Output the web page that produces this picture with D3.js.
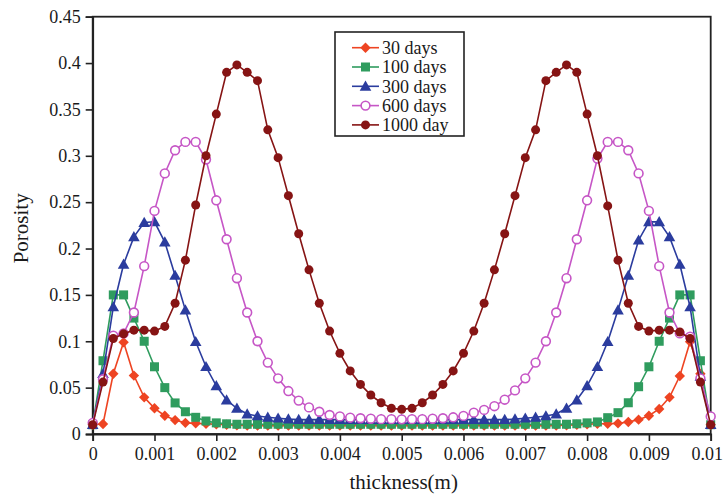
<!DOCTYPE html>
<html>
<head>
<meta charset="utf-8">
<script src="https://cdn.jsdelivr.net/npm/d3@7/dist/d3.min.js"></script>
<style>
  body { margin: 0; background: #fff; }
  svg { display: block; }
  text { font-family: "Liberation Serif", "Times New Roman", serif; fill: #1a1a1a; }
</style>
</head>
<body>
<svg id="chart" width="724" height="495"></svg>
<script>
// ---------- DATA ----------
const N = 61;
const thickness = d3.range(N).map(i => i / 6000); // 0 .. 0.01 m
const seriesNames = ["30 days", "100 days", "300 days", "600 days", "1000 day"];

const days30 = [
  0.010, 0.0108, 0.065, 0.099, 0.063, 0.0395, 0.0277, 0.0197, 0.015, 0.012,
  0.0115, 0.011, 0.0105, 0.010, 0.0095, 0.0092, 0.009, 0.009, 0.009, 0.009,
  0.009, 0.009, 0.009, 0.009, 0.009, 0.009, 0.009, 0.009, 0.009, 0.009,
  0.009, 0.009, 0.009, 0.009, 0.009, 0.009, 0.009, 0.009, 0.009, 0.009,
  0.009, 0.009, 0.009, 0.009, 0.009, 0.0092, 0.0095, 0.010, 0.0105, 0.011,
  0.011, 0.0115, 0.013, 0.0155, 0.0197, 0.027, 0.0395, 0.0625, 0.0995, 0.065,
  0.010
];
const days100 = [
  0.010, 0.079, 0.150, 0.150, 0.125, 0.100, 0.0725, 0.050, 0.0335, 0.024,
  0.018, 0.014, 0.012, 0.011, 0.0105, 0.0105, 0.0105, 0.0105, 0.0105, 0.0105,
  0.0105, 0.0105, 0.0105, 0.0105, 0.0105, 0.0105, 0.0105, 0.0105, 0.0105, 0.0105,
  0.0105, 0.0105, 0.0105, 0.0105, 0.0105, 0.0105, 0.0105, 0.0105, 0.0105, 0.0105,
  0.0105, 0.0105, 0.0105, 0.0105, 0.0105, 0.0105, 0.0105, 0.011, 0.012, 0.013,
  0.0176, 0.023, 0.0337, 0.051, 0.0725, 0.100, 0.125, 0.150, 0.150, 0.079,
  0.010
];
const days300 = [
  0.010, 0.065, 0.137, 0.183, 0.2126, 0.228, 0.2288, 0.207, 0.171, 0.1336,
  0.0995, 0.0725, 0.052, 0.0366, 0.0277, 0.0215, 0.0194, 0.018, 0.017, 0.016,
  0.0155, 0.0155, 0.0155, 0.0155, 0.0155, 0.0155, 0.0155, 0.0155, 0.0155, 0.0155,
  0.0155, 0.0155, 0.0155, 0.0155, 0.0155, 0.0155, 0.0155, 0.0155, 0.0155, 0.0155,
  0.0155, 0.016, 0.017, 0.018, 0.0194, 0.0215, 0.0277, 0.0366, 0.052, 0.0725,
  0.0995, 0.1336, 0.171, 0.209, 0.2288, 0.2288, 0.2126, 0.183, 0.137, 0.062,
  0.010
];
const days600 = [
  0.012, 0.059, 0.106, 0.1085, 0.131, 0.181, 0.2406, 0.281, 0.306, 0.315,
  0.315, 0.296, 0.252, 0.210, 0.168, 0.131, 0.100, 0.077, 0.060, 0.0463,
  0.036, 0.0287, 0.024, 0.0205, 0.019, 0.0176, 0.017, 0.0165, 0.016, 0.016,
  0.0158, 0.016, 0.016, 0.0165, 0.017, 0.018, 0.0195, 0.023, 0.026, 0.030,
  0.037, 0.047, 0.060, 0.077, 0.100, 0.131, 0.168, 0.210, 0.252, 0.297,
  0.315, 0.315, 0.306, 0.281, 0.2406, 0.181, 0.131, 0.1085, 0.105, 0.060,
  0.019
];
const days1000 = [
  0.010, 0.056, 0.103, 0.108, 0.112, 0.112, 0.111, 0.116, 0.141, 0.1875,
  0.247, 0.300, 0.345, 0.390, 0.398, 0.390, 0.381, 0.328, 0.298, 0.257,
  0.216, 0.177, 0.141, 0.111, 0.087, 0.068, 0.0535, 0.042, 0.0337, 0.0277,
  0.0266, 0.0277, 0.0337, 0.042, 0.0535, 0.068, 0.087, 0.111, 0.141, 0.177,
  0.216, 0.257, 0.298, 0.328, 0.381, 0.390, 0.398, 0.390, 0.345, 0.300,
  0.246, 0.1875, 0.141, 0.116, 0.111, 0.112, 0.112, 0.110, 0.103, 0.056,
  0.010
];

const xTicks = [0, 0.001, 0.002, 0.003, 0.004, 0.005, 0.006, 0.007, 0.008, 0.009, 0.01];
const xTickLabels = ["0", "0.001", "0.002", "0.003", "0.004", "0.005", "0.006", "0.007", "0.008", "0.009", "0.01"];
const yTicks = [0, 0.05, 0.1, 0.15, 0.2, 0.25, 0.3, 0.35, 0.4, 0.45];
const yTickLabels = ["0", "0.05", "0.1", "0.15", "0.2", "0.25", "0.3", "0.35", "0.4", "0.45"];

// ---------- STYLE ----------
const colors = ["#ee4422", "#2f9c5e", "#2b3c9e", "#c656c6", "#861414"];
const markers = ["diamond", "square", "triangle", "openCircle", "circle"];
const allSeries = [days30, days100, days300, days600, days1000];

// ---------- LAYOUT ----------
const svg = d3.select("#chart");
const pLeft = 92.7, pRight = 710.7, pTop = 16.7, pBottom = 434;
const x = d3.scaleLinear().domain([0, 0.01]).range([pLeft, pRight]);
const y = d3.scaleLinear().domain([0, 0.45]).range([pBottom, pTop]);

// frame
svg.append("rect")
  .attr("x", pLeft).attr("y", pTop)
  .attr("width", pRight - pLeft).attr("height", pBottom - pTop)
  .attr("fill", "none").attr("stroke", "#222").attr("stroke-width", 1.8);

// axes
const xAxis = d3.axisBottom(x).tickValues(xTicks)
  .tickFormat((d, i) => xTickLabels[i]).tickSize(7).tickPadding(6);
const yAxis = d3.axisLeft(y).tickValues(yTicks)
  .tickFormat((d, i) => yTickLabels[i]).tickSize(7).tickPadding(5);

const gx = svg.append("g").attr("transform", `translate(0,${pBottom})`).call(xAxis);
const gy = svg.append("g").attr("transform", `translate(${pLeft},0)`).call(yAxis);
[gx, gy].forEach(g => {
  g.select(".domain").attr("stroke", "#222").attr("stroke-width", 1.8);
  g.selectAll(".tick line").attr("stroke", "#222").attr("stroke-width", 1.6);
  g.selectAll(".tick text")
    .style("font-family", '"Liberation Serif", "Times New Roman", serif')
    .style("font-size", "18px").attr("fill", "#1f2a44");
});
// keep the last x label inside the page
gx.selectAll(".tick text").filter((d, i) => i === xTicks.length - 1)
  .attr("text-anchor", "end").attr("x", 724 - pRight - 1.5);

// axis titles
svg.append("text")
  .attr("x", (pLeft + pRight) / 2 + 2).attr("y", 489)
  .attr("text-anchor", "middle").style("font-size", "21px")
  .text("thickness(m)");
svg.append("text")
  .attr("transform", `translate(28,${(pTop + pBottom) / 2 + 3}) rotate(-90)`)
  .attr("text-anchor", "middle").style("font-size", "21px")
  .text("Porosity");

// marker drawing
function drawMarker(g, type, color, cx, cy) {
  if (type === "diamond") {
    const s = 5.2;
    g.append("path").attr("d", `M${cx},${cy - s}L${cx + s},${cy}L${cx},${cy + s}L${cx - s},${cy}Z`)
      .attr("fill", color);
  } else if (type === "square") {
    const s = 4.5;
    g.append("rect").attr("x", cx - s).attr("y", cy - s).attr("width", 2 * s).attr("height", 2 * s)
      .attr("fill", color);
  } else if (type === "triangle") {
    const s = 5.8;
    g.append("path").attr("d", `M${cx},${cy - s}L${cx + s},${cy + s * 0.75}L${cx - s},${cy + s * 0.75}Z`)
      .attr("fill", color);
  } else if (type === "openCircle") {
    g.append("circle").attr("cx", cx).attr("cy", cy).attr("r", 4.4)
      .attr("fill", "#fff").attr("stroke", color).attr("stroke-width", 1.6);
  } else {
    g.append("circle").attr("cx", cx).attr("cy", cy).attr("r", 4.5).attr("fill", color);
  }
}

const line = d3.line().x((d, i) => x(thickness[i])).y(d => y(d));

allSeries.forEach((vals, k) => {
  const g = svg.append("g");
  g.append("path").datum(vals).attr("d", line)
    .attr("fill", "none").attr("stroke", colors[k]).attr("stroke-width", 1.6);
  vals.forEach((v, i) => drawMarker(g, markers[k], colors[k], x(thickness[i]), y(v)));
});

// legend
const lg = svg.append("g");
lg.append("rect").attr("x", 335).attr("y", 32).attr("width", 129).attr("height", 104)
  .attr("fill", "#fff").attr("stroke", "#222").attr("stroke-width", 1.6);
seriesNames.forEach((name, k) => {
  const ly = 47.7 + k * 19.3;
  lg.append("line").attr("x1", 352).attr("x2", 379).attr("y1", ly).attr("y2", ly)
    .attr("stroke", colors[k]).attr("stroke-width", 1.6);
  drawMarker(lg, markers[k], colors[k], 365.5, ly);
  lg.append("text").attr("x", 382).attr("y", ly).attr("dy", "0.35em")
    .style("font-size", "18px").attr("fill", "#1f2a44").text(name);
});
</script>
</body>
</html>
